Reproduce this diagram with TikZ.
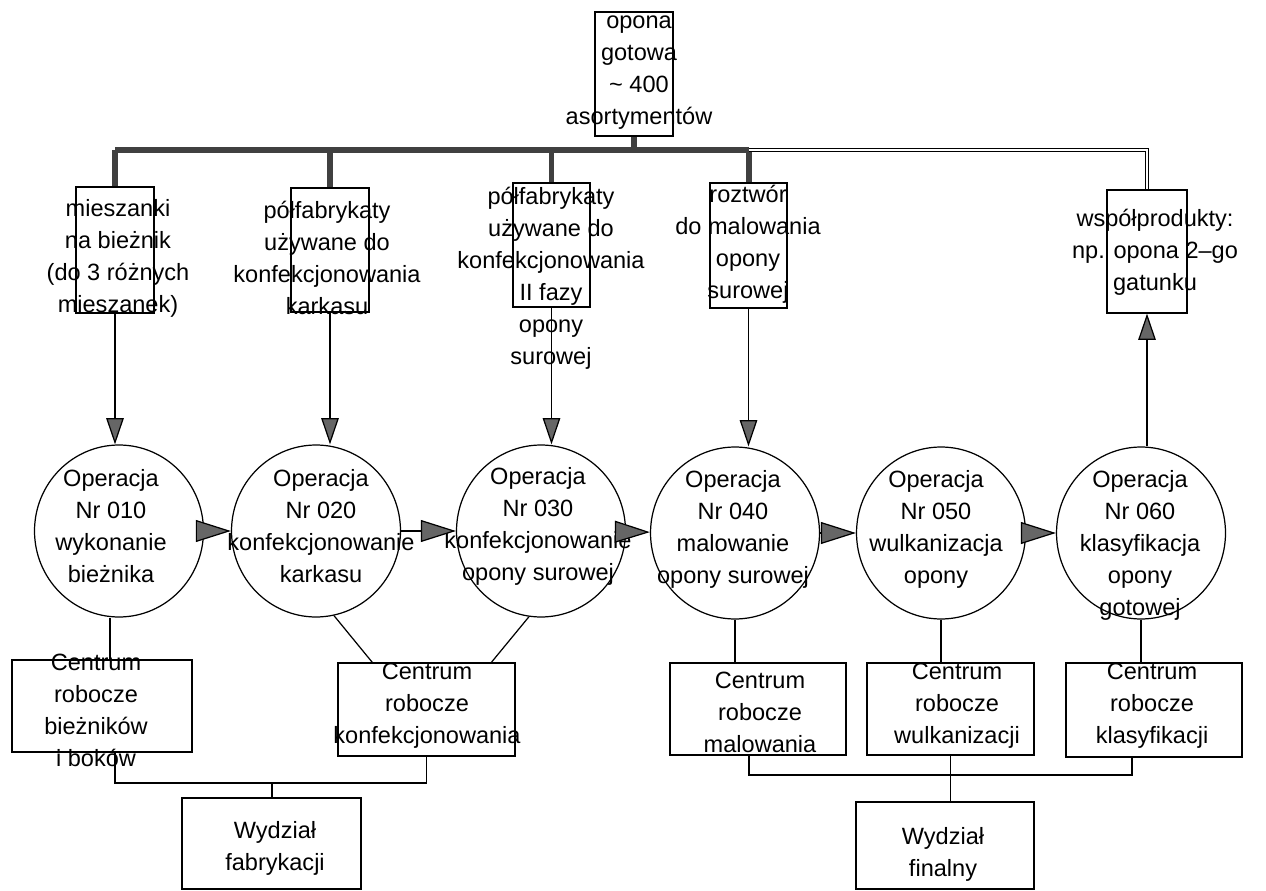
\documentclass[tikz,border=0pt]{standalone}
\usepackage{fontspec}
\setmainfont{Liberation Sans}
\usetikzlibrary{arrows.meta, positioning, shapes.geometric, fit}

\tikzset{
  box/.style={draw, line width=0.7pt, inner sep=0pt},
  txt/.style={align=center, inner sep=0pt, font=\fontsize{13.4}{18.2}\selectfont},
  oper/.style={draw, line width=0.7pt, ellipse, minimum width=3.38cm, minimum height=3.44cm, inner sep=0pt},
  bus/.style={line width=3.4pt, black!75},
  dbl/.style={double, double distance=1.6pt, line width=0.5pt},
  flow/.style={line width=0.7pt, -{Triangle[length=20pt, width=12.5pt, fill=black!60]}},
  feed/.style={line width=0.7pt, -{Triangle[length=15pt, width=10pt, fill=black!60]}},
  link/.style={line width=0.7pt},
}

\begin{document}
\begin{tikzpicture}[x=0.02cm, y=-0.02cm]
  \useasboundingbox[fill=white] (0,0) rectangle (1266,891);

  % wyrob gotowy
  \node[box, fit={(595,12) (673,136)}] (wyr) {};
  \node[txt] (wyrt) at (639,73) {opona\\gotowa\\\textasciitilde{} 400\\asortymentów};

  % materialy wejsciowe
  \node[box, fit={(76,187) (154,313)}] (s1) {};
  \node[txt] (s1t) at (118,258) {mieszanki\\na bieżnik\\(do 3 różnych\\mieszanek)};
  \node[box, fit={(291,188) (369,312)}] (s2) {};
  \node[txt] (s2t) at (327,258) {półfabrykaty\\używane do\\konfekcjonowania\\karkasu};
  \node[box, fit={(513,183) (590,307)}] (s3) {};
  \node[txt] (s3t) at (551,278) {półfabrykaty\\używane do\\konfekcjonowania\\II fazy\\opony\\surowej};
  \node[box, fit={(710,183) (787,308)}] (s4) {};
  \node[txt] (s4t) at (748,244) {roztwór\\do malowania\\opony\\surowej};
  \node[box, fit={(1107,190) (1187,313)}] (s5) {};
  \node[txt] (s5t) at (1155,252) {współprodukty:\\np. opona 2--go\\gatunku};

  % operacje
  \node[oper] (c1) at (119,531) {};
  \node[txt] (c1t) at (111,526) {Operacja\\Nr 010\\wykonanie\\bieżnika};
  \node[oper] (c2) at (316,531) {};
  \node[txt] (c2t) at (321,526) {Operacja\\Nr 020\\konfekcjonowanie\\karkasu};
  \node[oper] (c3) at (541,531) {};
  \node[txt] (c3t) at (538,526) {Operacja\\Nr 030\\konfekcjonowanie\\opony surowej};
  \node[oper] (c4) at (735,533) {};
  \node[txt] (c4t) at (733,529) {Operacja\\Nr 040\\malowanie\\opony surowej};
  \node[oper] (c5) at (941,533) {};
  \node[txt] (c5t) at (936,529) {Operacja\\Nr 050\\wulkanizacja\\opony};
  \node[oper] (c6) at (1141,533) {};
  \node[txt] (c6t) at (1140,545) {Operacja\\Nr 060\\klasyfikacja\\opony\\gotowej};

  % centra robocze
  \node[box, fit={(12,660) (192,752)}] (cb1) {};
  \node[txt] (cb1t) at (96,710) {Centrum\\robocze\\bieżników\\i boków};
  \node[box, fit={(338,663) (515,756)}] (cb2) {};
  \node[txt] (cb2t) at (427,706) {Centrum\\robocze\\konfekcjonowania};
  \node[box, fit={(670,663) (846,755)}] (cb3) {};
  \node[txt] (cb3t) at (760,712) {Centrum\\robocze\\malowania};
  \node[box, fit={(867,663) (1034,755)}] (cb4) {};
  \node[txt] (cb4t) at (957,706) {Centrum\\robocze\\wulkanizacji};
  \node[box, fit={(1066,663) (1242,757)}] (cb5) {};
  \node[txt] (cb5t) at (1152,706) {Centrum\\robocze\\klasyfikacji};

  % wydzialy
  \node[box, fit={(182,798) (361,889)}] (wb) {};
  \node[txt] (wbt) at (275,848) {Wydział\\fabrykacji};
  \node[box, fit={(856,802) (1034,889)}] (wf) {};
  \node[txt] (wft) at (943,854) {Wydział\\finalny};

  % szyna zestawienia
  \coordinate (bus) at (0,150);
  \draw[bus] (s1.north |- bus) -- (s4.north |- bus);
  \draw[bus] (wyr.south) -- (wyr.south |- bus);
  \draw[bus] (s1.north |- bus) -- (s1.north);
  \draw[bus] (s2.north |- bus) -- (s2.north);
  \draw[bus] (s3.north |- bus) -- (s3.north);
  \draw[bus] (s4.north |- bus) -- (s4.north);
  \draw[dbl] (s4.north |- bus) -- (s5.north |- bus) -- (s5.north);

  % wejscia do operacji
  \draw[feed] (s1.south) -- (s1.south |- c1.north);
  \draw[feed] (s2.south) -- (s2.south |- c2.north);
  \draw[feed] (s3.south) -- (s3.south |- c3.north);
  \draw[feed] (s4.south) -- (s4.south |- c4.north);
  \draw[feed] (s5.south |- c6.north) -- (s5.south);

  % przeplyw miedzy operacjami
  \draw[flow] (c1) -- (c2);
  \draw[flow] (c2) -- (c3);
  \draw[flow] (c3) -- (c4);
  \draw[flow] (c4) -- (c5);
  \draw[flow] (c5) -- (c6);

  % operacje - centra
  \draw[link] ([xshift=-0.18cm]c1.south) -- ([xshift=-0.18cm]c1.south |- cb1.north);
  \draw[link] (c2.282) -- (cb2.139);
  \draw[link] (c3.262) -- (cb2.36);
  \draw[link] (c4.south) -- (c4.south |- cb3.north);
  \draw[link] (c5.south) -- (c5.south |- cb4.north);
  \draw[link] (c6.south) -- (c6.south |- cb5.north);

  % centra - wydzialy
  \coordinate (j1) at (272,783);
  \draw[link] ([xshift=0.26cm]cb1.south) |- (j1) -| (cb2.south);
  \draw[link] (j1) -- (j1 |- wb.north);
  \coordinate (j2) at (944,775);
  \draw[link] ([xshift=-0.18cm]cb3.south) |- (j2) -| ([xshift=-0.44cm]cb5.south);
  \draw[link] (cb4.south) -- (cb4.south |- wf.north);
\end{tikzpicture}
\end{document}
